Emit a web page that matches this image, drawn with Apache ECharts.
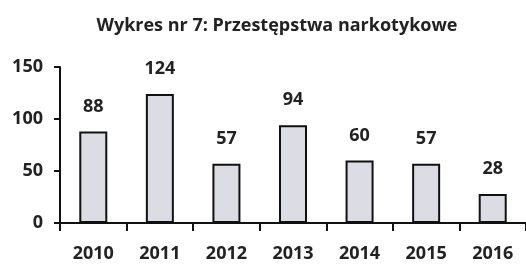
<!DOCTYPE html>
<html>
<head>
<meta charset="utf-8">
<script src="https://cdn.jsdelivr.net/npm/echarts@6/dist/echarts.min.js"></script>
<style>
html, body { margin: 0; padding: 0; background: #fff; }
#main { width: 526px; height: 264px; }
</style>
</head>
<body>
<div id="main"></div>
<script type="text/javascript">
// dane z wykresu
var years = ['2010', '2011', '2012', '2013', '2014', '2015', '2016'];
var counts = [88, 124, 57, 94, 60, 57, 28];
var yTicks = [0, 50, 100, 150];

var myChart = echarts.init(document.getElementById('main'));

var font = '"Open Sans", "Noto Sans", sans-serif';

var option = {
    animation: false,
    title: {
        text: 'Wykres nr 7: Przestępstwa narkotykowe',
        left: 272,
        top: 12,
        textAlign: 'center',
        textStyle: { fontFamily: font, fontSize: 18, fontWeight: 'bold', color: '#222' }
    },
    grid: { left: 60, right: 0, top: 67, bottom: 41 },
    xAxis: {
        type: 'category',
        data: years,
        axisLine: { lineStyle: { color: '#111', width: 2 } },
        axisTick: { show: true, length: 8, lineStyle: { color: '#111', width: 2 } },
        axisLabel: { fontFamily: font, fontSize: 18, fontWeight: 'bold', color: '#222', margin: 22 }
    },
    yAxis: {
        type: 'value',
        min: yTicks[0],
        max: yTicks[yTicks.length - 1],
        interval: 50,
        splitLine: { show: false },
        axisLine: { show: true, lineStyle: { color: '#111', width: 2 } },
        axisTick: { show: true, length: 6, lineStyle: { color: '#111', width: 2 } },
        axisLabel: { fontFamily: font, fontSize: 18, fontWeight: 'bold', color: '#222', margin: 17 }
    },
    series: [{
        type: 'bar',
        data: counts,
        barWidth: 28,
        itemStyle: { color: '#dcdce4', borderColor: '#111', borderWidth: 2 },
        label: {
            show: true,
            position: 'top',
            distance: 16,
            fontFamily: font, fontSize: 18, fontWeight: 'bold', color: '#222'
        }
    }]
};

myChart.setOption(option);
</script>
</body>
</html>
